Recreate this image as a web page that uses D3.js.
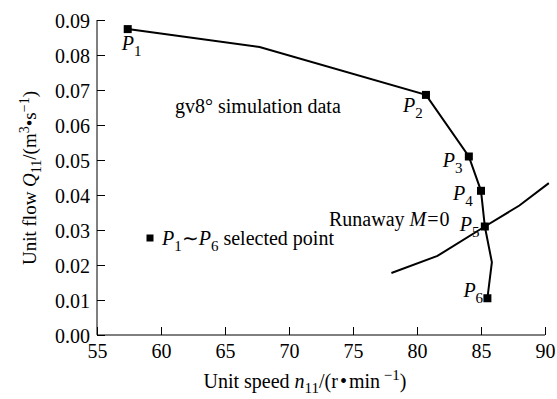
<!DOCTYPE html>
<html>
<head>
<meta charset="utf-8">
<script src="https://cdn.jsdelivr.net/npm/d3@7"></script>
<style>
  body { margin: 0; background: #fff; }
  .axis path, .axis line { stroke: #000; stroke-width: 1; }
</style>
</head>
<body>
<div id="chart"></div>
<script>
// simulation curve (gv8°)
const simN = [57.4, 67.7, 80.7, 84.05, 85.0, 85.3, 85.85, 85.5];
const simQ = [0.0874, 0.0823, 0.0686, 0.0510, 0.0412, 0.0310, 0.0208, 0.0105];

// runaway line M=0
const runN = [78.0, 81.6, 85.3, 88.0, 90.3];
const runQ = [0.0177, 0.0226, 0.0310, 0.0370, 0.0434];

// selected points P1..P6
const selN = [57.4, 80.7, 84.05, 85.0, 85.3, 85.5];
const selQ = [0.0874, 0.0686, 0.0510, 0.0412, 0.0310, 0.0105];
const selName = ["1", "2", "3", "4", "5", "6"];
// label offset relative to the point (px)
const selLabelDx = [-6, -23, -26, -28, -25, -24];
const selLabelDy = [21, 17, 10, 9, 4, -1];

const xTicks = [55, 60, 65, 70, 75, 80, 85, 90];
const yTicks = [0, 0.01, 0.02, 0.03, 0.04, 0.05, 0.06, 0.07, 0.08, 0.09];

const FONT = "Liberation Serif";

const margin = {top: 20, right: 12, bottom: 64, left: 97};
const W = 557, H = 399;
const width = W - margin.left - margin.right;
const height = H - margin.top - margin.bottom;

const svg = d3.select("#chart").append("svg")
    .attr("width", W)
    .attr("height", H)
    .style("font-family", FONT);

const g = svg.append("g")
    .attr("transform", "translate(" + margin.left + "," + margin.top + ")");

const x = d3.scaleLinear().domain([55, 90]).range([0, width]);
const y = d3.scaleLinear().domain([0, 0.09]).range([height, 0]);

// axes
const xAxis = g.append("g")
    .attr("class", "axis")
    .attr("transform", "translate(0," + height + ")")
    .call(d3.axisBottom(x).tickValues(xTicks).tickSize(-8).tickSizeOuter(0).tickPadding(9)
        .tickFormat(d3.format("d")));
xAxis.attr("font-family", FONT);
xAxis.selectAll("text").attr("font-size", 20).style("font-family", FONT).attr("fill", "#000");

const yAxis = g.append("g")
    .attr("class", "axis")
    .call(d3.axisLeft(y).tickValues(yTicks).tickSize(-8).tickSizeOuter(0).tickPadding(7)
        .tickFormat(d3.format(".2f")));
yAxis.attr("font-family", FONT);
yAxis.selectAll("text").attr("font-size", 20).attr("dy", "0.36em").style("font-family", FONT).attr("fill", "#000");
xAxis.select(".domain").attr("d", "M0,0H" + width);
yAxis.select(".domain").attr("d", "M0," + height + "V0");

// lines
const line = d3.line()
    .x(d => x(d[0]))
    .y(d => y(d[1]));

g.append("path")
    .datum(simN.map((n, i) => [n, simQ[i]]))
    .attr("fill", "none")
    .attr("stroke", "#000")
    .attr("stroke-width", 2)
    .attr("d", line);

g.append("path")
    .datum(runN.map((n, i) => [n, runQ[i]]))
    .attr("fill", "none")
    .attr("stroke", "#000")
    .attr("stroke-width", 2)
    .attr("d", line);

// markers
const ms = 8;
g.selectAll(".pt")
    .data(selN.map((n, i) => [n, selQ[i]]))
    .enter().append("rect")
    .attr("class", "pt")
    .attr("x", d => x(d[0]) - ms / 2)
    .attr("y", d => y(d[1]) - ms / 2)
    .attr("width", ms)
    .attr("height", ms)
    .attr("fill", "#000");

// point labels
const lab = g.selectAll(".plab")
    .data(selName)
    .enter().append("text")
    .attr("class", "plab")
    .style("font-family", FONT)
    .attr("font-size", 20)
    .attr("x", (d, i) => x(selN[i]) + selLabelDx[i])
    .attr("y", (d, i) => y(selQ[i]) + selLabelDy[i]);
lab.append("tspan").attr("font-style", "italic").text("P");
lab.append("tspan").attr("font-size", 15).attr("dy", 6).text(d => d);

// annotations
g.append("text")
    .style("font-family", FONT)
    .attr("x", 78)
    .attr("y", 93)
    .attr("font-size", 20)
    .text("gv8° simulation data");

const run = g.append("text")
    .style("font-family", FONT)
    .attr("x", 232)
    .attr("y", 206)
    .attr("font-size", 20);
run.append("tspan").text("Runaway ");
run.append("tspan").attr("font-style", "italic").text("M");
run.append("tspan").attr("dx", 1).text("=");
run.append("tspan").attr("dx", 1).text("0");

// legend
g.append("rect")
    .attr("x", 150 - margin.left - 3.5)
    .attr("y", 238 - margin.top - 3.5)
    .attr("width", 7)
    .attr("height", 7)
    .attr("fill", "#000");
const leg = g.append("text")
    .style("font-family", FONT)
    .attr("x", 162 - margin.left)
    .attr("y", 245 - margin.top)
    .attr("font-size", 20);
leg.append("tspan").attr("font-style", "italic").text("P");
leg.append("tspan").attr("font-size", 15).attr("dy", 6).text("1");
leg.append("tspan").attr("dy", -6).text("∼");
leg.append("tspan").attr("font-style", "italic").text("P");
leg.append("tspan").attr("font-size", 15).attr("dy", 6).text("6");
leg.append("tspan").attr("dy", -6).text(" selected point");

// axis titles
const xt = svg.append("text")
    .style("font-family", FONT)
    .attr("x", 305)
    .attr("y", 388)
    .attr("text-anchor", "middle")
    .attr("font-size", 20);
xt.append("tspan").text("Unit speed ");
xt.append("tspan").attr("font-style", "italic").text("n");
xt.append("tspan").attr("font-size", 15).attr("dy", 5).text("11");
xt.append("tspan").attr("dy", -5).text("/(r");
xt.append("tspan").attr("dx", 2).text("•");
xt.append("tspan").attr("dx", 2).text("min");
xt.append("tspan").attr("font-size", 15).attr("dy", -8).text(" −1");
xt.append("tspan").attr("dy", 8).text(")");

const yt = svg.append("text")
    .style("font-family", FONT)
    .attr("transform", "translate(36,178) rotate(-90)")
    .attr("text-anchor", "middle")
    .attr("font-size", 19);
yt.append("tspan").text("Unit flow ");
yt.append("tspan").attr("font-style", "italic").text("Q");
yt.append("tspan").attr("font-size", 14).attr("dy", 5).text("11");
yt.append("tspan").attr("dy", -5).text("/(m");
yt.append("tspan").attr("font-size", 14).attr("dy", -7).text("3");
yt.append("tspan").attr("dy", 7).text("•s");
yt.append("tspan").attr("font-size", 14).attr("dy", -7).text("−1");
yt.append("tspan").attr("dy", 7).text(")");
</script>
</body>
</html>
